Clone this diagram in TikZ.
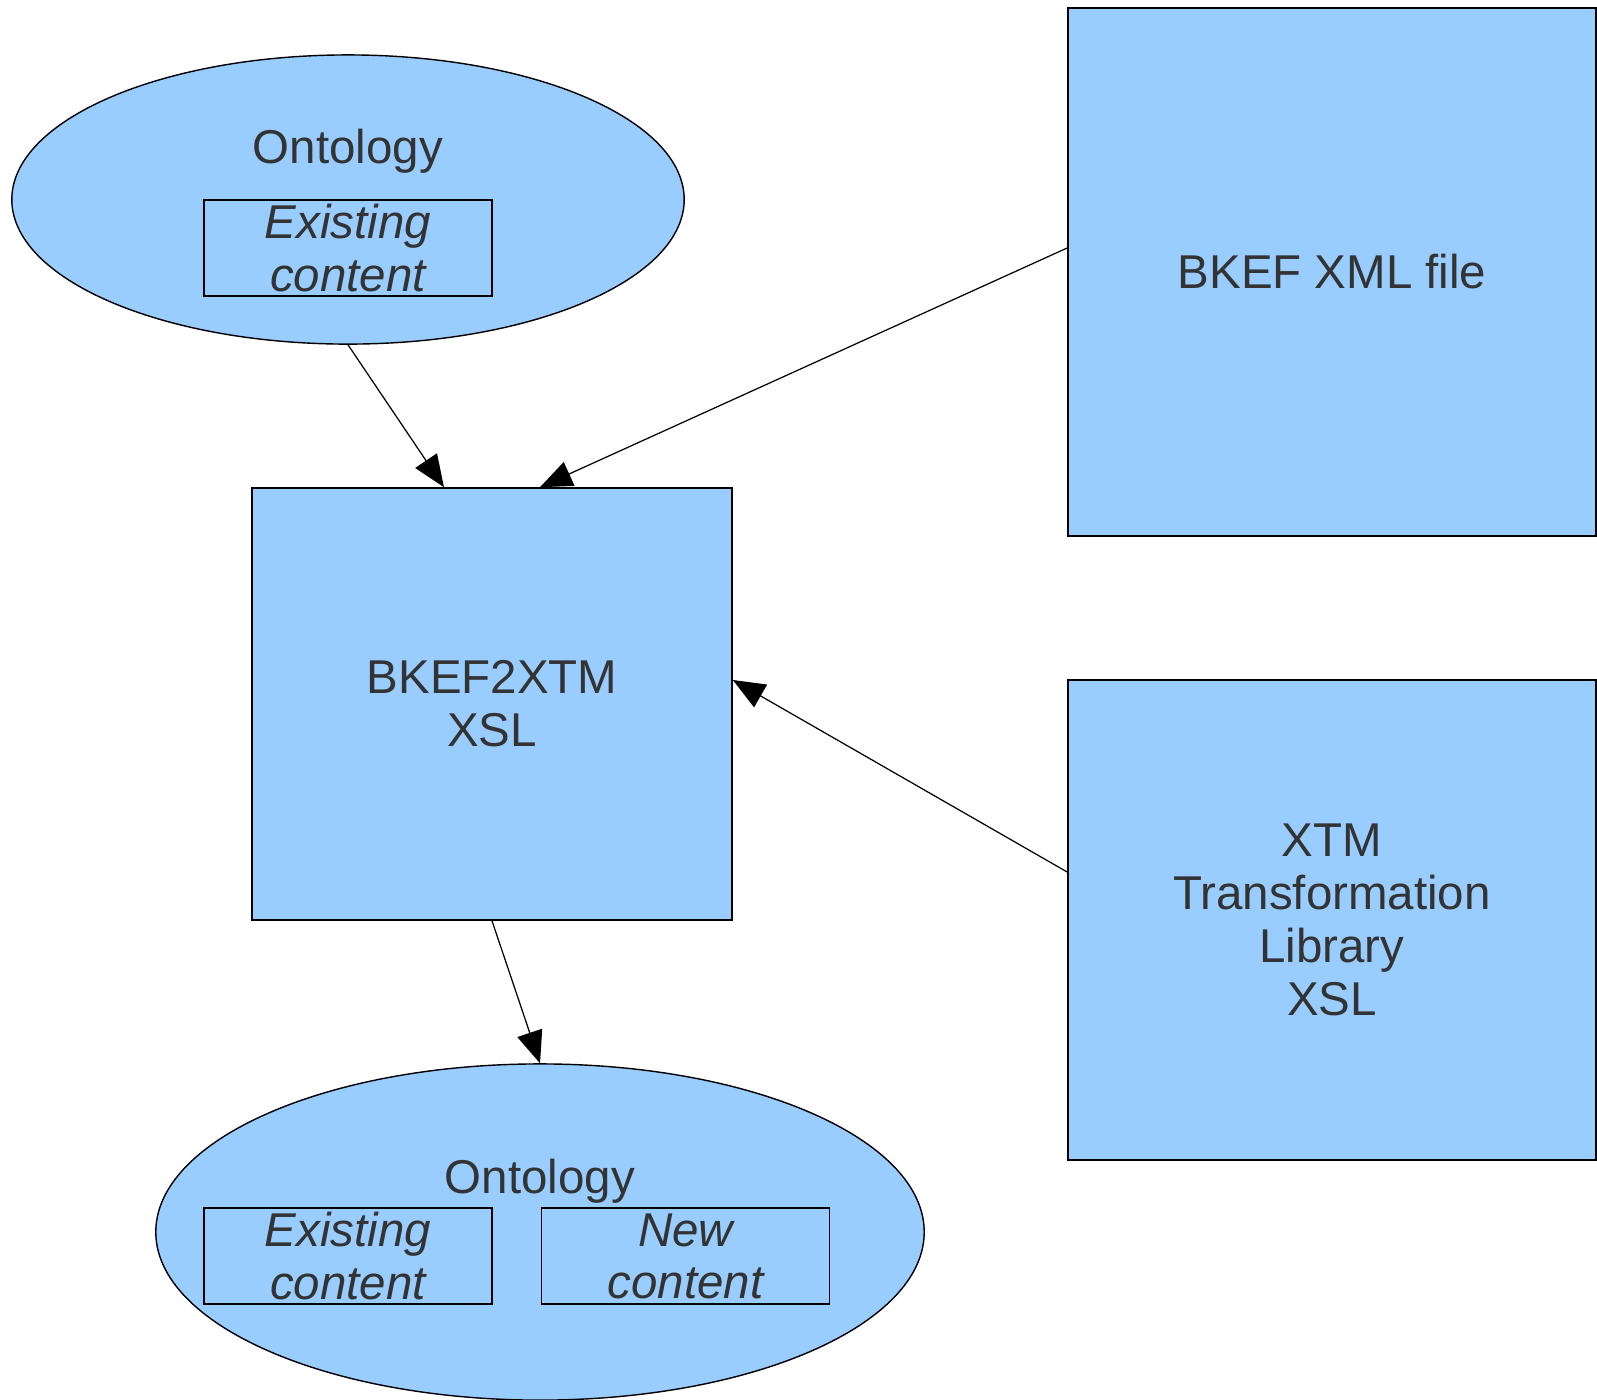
\documentclass[tikz,border=0pt]{standalone}
\usepackage{fontspec}
\setmainfont{Liberation Sans}
\usetikzlibrary{positioning}
\usetikzlibrary {arrows.meta}
\usetikzlibrary{shapes.geometric}
\definecolor{boxblue}{HTML}{99CCFF}
\definecolor{txtgray}{HTML}{333333}
\tikzset{
    blob/.style={ellipse, draw, fill=boxblue, inner sep=0pt, line width=0.4pt},
    block/.style={rectangle, draw, fill=boxblue, inner sep=0pt, align=center,
        text=txtgray, font=\fontsize{13.5}{15.1}\selectfont, line width=0.4pt},
    part/.style={rectangle, draw, minimum width=2.88cm, minimum height=0.96cm,
        inner sep=0pt, align=center, text=txtgray, line width=0.4pt,
        font=\fontsize{13.5}{14.8}\selectfont\itshape},
    lbl/.style={text=txtgray, font=\fontsize{13.5}{15.1}\selectfont},
    flow/.style={-{Triangle[length=3.2mm,width=2.6mm]}, line width=0.35pt},
}

\begin{document}
\begin{tikzpicture}[x=0.01cm, y=-0.01cm]
    \useasboundingbox (0,0) rectangle (1597,1399);
    %% ontology before
    \node[blob, minimum width=6.72cm, minimum height=2.89cm] (onto1) at (348,199.5) {};
    \node[lbl] (onto1lbl) at (348,151) {Ontology};
    \node[part] (old1) at (348,248) {Existing\\content};
    %% the stylesheets and the input
    \node[block, minimum width=4.8cm, minimum height=4.32cm] (xsl) at (492,704) {BKEF2XTM\\XSL};
    \node[block, minimum width=5.28cm, minimum height=5.28cm] (bkef) at (1332,272) {BKEF XML file};
    \node[block, minimum width=5.28cm, minimum height=4.8cm] (xtm) at (1332,920) {XTM\\Transformation\\Library\\XSL};
    %% ontology after
    \node[blob, minimum width=7.68cm, minimum height=3.36cm] (onto2) at (540,1232) {};
    \node[lbl] (onto2lbl) at (540,1181) {Ontology};
    \node[part] (old2) at (348,1256) {Existing\\content};
    \node[part, right = 0.48cm of old2] (new2) {New\\content};
    % connectors
    \draw[flow] (onto1.south) -- ([xshift=-0.48cm]xsl.north);
    \draw[flow] ([yshift=0.24cm]bkef.west) -- ([xshift=0.48cm]xsl.north);
    \draw[flow] ([yshift=0.48cm]xtm.west) -- ([yshift=0.24cm]xsl.east);
    \draw[flow] (xsl.south) -- (onto2.north);
\end{tikzpicture}
\end{document}
